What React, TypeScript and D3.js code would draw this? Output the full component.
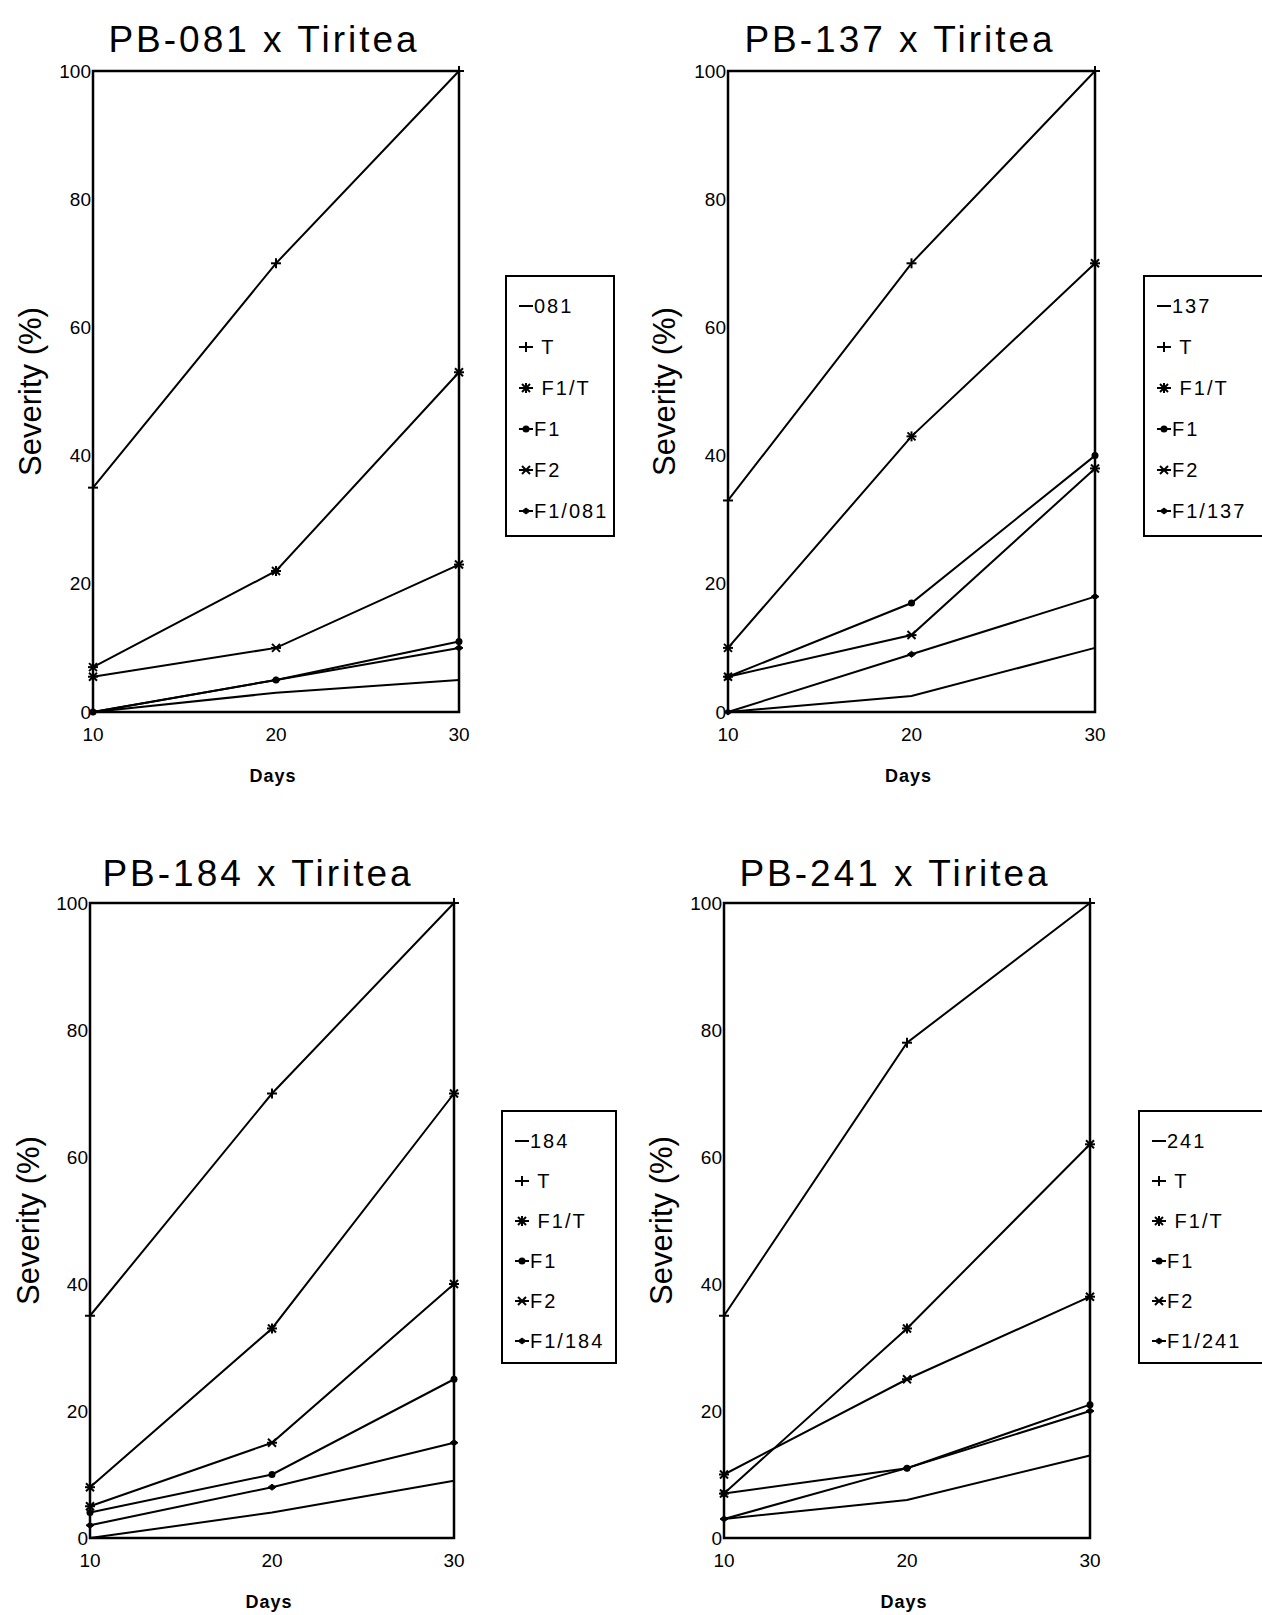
import React from "react";
import * as d3 from "d3";

const days = [10, 20, 30];
const yTicks = [0, 20, 40, 60, 80, 100];
const seriesKeys = ["parent", "T", "F1T", "F1", "F2", "F1P"];

const titles = ["PB-081 x Tiritea", "PB-137 x Tiritea", "PB-184 x Tiritea", "PB-241 x Tiritea"];
const parents = ["081", "137", "184", "241"];

const p081_parent = [0, 3, 5];
const p081_T = [35, 70, 100];
const p081_F1T = [7, 22, 53];
const p081_F1 = [0, 5, 11];
const p081_F2 = [5.5, 10, 23];
const p081_F1P = [0, 5, 10];

const p137_parent = [0, 2.5, 10];
const p137_T = [33, 70, 100];
const p137_F1T = [10, 43, 70];
const p137_F1 = [5.5, 17, 40];
const p137_F2 = [5.5, 12, 38];
const p137_F1P = [0, 9, 18];

const p184_parent = [0, 4, 9];
const p184_T = [35, 70, 100];
const p184_F1T = [8, 33, 70];
const p184_F1 = [4, 10, 25];
const p184_F2 = [5, 15, 40];
const p184_F1P = [2, 8, 15];

const p241_parent = [3, 6, 13];
const p241_T = [35, 78, 100];
const p241_F1T = [7, 33, 62];
const p241_F1 = [7, 11, 21];
const p241_F2 = [10, 25, 38];
const p241_F1P = [3, 11, 20];

const panelData = [
  [p081_parent, p081_T, p081_F1T, p081_F1, p081_F2, p081_F1P],
  [p137_parent, p137_T, p137_F1T, p137_F1, p137_F2, p137_F1P],
  [p184_parent, p184_T, p184_F1T, p184_F1, p184_F2, p184_F1P],
  [p241_parent, p241_T, p241_F1T, p241_F1, p241_F2, p241_F1P],
];

const layouts = [
  { x0: 93, x1: 459, y0: 71, y1: 712, tx: 264, ty: 52, lx: 30, lgX: 506, lgY: 276, lgW: 108, lgH: 260, lgStep: 41 },
  { x0: 728, x1: 1095, y0: 71, y1: 712, tx: 900, ty: 52, lx: 664, lgX: 1144, lgY: 276, lgW: 140, lgH: 260, lgStep: 41 },
  { x0: 90, x1: 454, y0: 903, y1: 1538, tx: 258, ty: 886, lx: 28, lgX: 502, lgY: 1111, lgW: 114, lgH: 252, lgStep: 40 },
  { x0: 724, x1: 1090, y0: 903, y1: 1538, tx: 895, ty: 886, lx: 661, lgX: 1139, lgY: 1111, lgW: 140, lgH: 252, lgStep: 40 },
];

const FONT = "'Liberation Sans', Arial, Helvetica, sans-serif";

function Marker({ kind, x, y }: { kind: string; x: number; y: number }) {
  const s = 5;
  const st = { stroke: "#000", strokeWidth: 2, fill: "none" };
  if (kind === "T") {
    return (
      <g>
        <line x1={x - s} x2={x + s} y1={y} y2={y} {...st} />
        <line x1={x} x2={x} y1={y - s} y2={y + s} {...st} />
      </g>
    );
  }
  if (kind === "F1T") {
    return (
      <g>
        <line x1={x - s} x2={x + s} y1={y} y2={y} {...st} />
        <line x1={x} x2={x} y1={y - s} y2={y + s} {...st} />
        <line x1={x - 4} x2={x + 4} y1={y - 4} y2={y + 4} {...st} />
        <line x1={x - 4} x2={x + 4} y1={y + 4} y2={y - 4} {...st} />
      </g>
    );
  }
  if (kind === "F1") {
    return <circle cx={x} cy={y} r={3.5} fill="#000" />;
  }
  if (kind === "F2") {
    return (
      <g>
        <line x1={x - 4} x2={x + 4} y1={y - 4} y2={y + 4} {...st} />
        <line x1={x - 4} x2={x + 4} y1={y + 4} y2={y - 4} {...st} />
        <line x1={x - s} x2={x + s} y1={y} y2={y} {...st} />
      </g>
    );
  }
  if (kind === "F1P") {
    return <path d={`M${x - 4},${y}L${x},${y - 3}L${x + 4},${y}L${x},${y + 3}Z`} fill="#000" stroke="#000" strokeWidth={1} />;
  }
  return null;
}

function Panel({ idx }: { idx: number }) {
  const L = layouts[idx];
  const data = panelData[idx];
  const x = d3.scaleLinear().domain([10, 30]).range([L.x0, L.x1]);
  const y = d3.scaleLinear().domain([0, 100]).range([L.y1, L.y0]);
  const line = d3
    .line<number>()
    .x((_, i) => x(days[i]))
    .y((d) => y(d));
  const legendLabels = [parents[idx], " T", " F1/T", "F1", "F2", "F1/" + parents[idx]];
  const cy = (L.y0 + L.y1) / 2;
  return (
    <g>
      <text x={L.tx} y={L.ty} fontFamily={FONT} fontSize={37} letterSpacing={3} textAnchor="middle" fill="#000">
        {titles[idx]}
      </text>
      {data.map((vals, si) => (
        <path key={si} d={line(vals) || ""} fill="none" stroke="#000" strokeWidth={2} />
      ))}
      {data.map((vals, si) =>
        vals.map((v, i) => <Marker key={si + "-" + i} kind={seriesKeys[si]} x={x(days[i])} y={y(v)} />)
      )}
      <rect x={L.x0} y={L.y0} width={L.x1 - L.x0} height={L.y1 - L.y0} fill="none" stroke="#000" strokeWidth={2.5} />
      {yTicks.map((t) => (
        <text key={t} x={L.x0 - 2} y={y(t)} dy="0.35em" fontFamily={FONT} fontSize={19} textAnchor="end" fill="#000">
          {t}
        </text>
      ))}
      {days.map((d) => (
        <text key={d} x={x(d)} y={L.y1 + 29} fontFamily={FONT} fontSize={19} textAnchor="middle" fill="#000">
          {d}
        </text>
      ))}
      <text x={(L.x0 + L.x1) / 2 - 3} y={L.y1 + 70} fontFamily={FONT} fontSize={18} fontWeight="bold" letterSpacing={1} textAnchor="middle" fill="#000">
        Days
      </text>
      <text
        transform={`translate(${L.lx},${cy}) rotate(-90)`}
        dy="0.35em"
        fontFamily={FONT}
        fontSize={31}
        textAnchor="middle"
        fill="#000"
      >
        Severity (%)
      </text>
      <rect x={L.lgX} y={L.lgY} width={L.lgW} height={L.lgH} fill="#fff" stroke="#000" strokeWidth={2} />
      {seriesKeys.map((k, i) => {
        const ly = L.lgY + 30 + i * L.lgStep;
        const lx0 = L.lgX + 13;
        return (
          <g key={k}>
            <line x1={lx0} x2={lx0 + 14} y1={ly} y2={ly} stroke="#000" strokeWidth={2} />
            <Marker kind={k} x={lx0 + 7} y={ly} />
            <text x={lx0 + 15} y={ly} dy="0.35em" fontFamily={FONT} fontSize={20} letterSpacing={2} fill="#000" style={{ whiteSpace: "pre" }}>
              {legendLabels[i]}
            </text>
          </g>
        );
      })}
    </g>
  );
}

export default function App() {
  return (
    <svg
      width={1262}
      height={1615}
      viewBox="0 0 1262 1615"
      style={{ position: "absolute", left: 0, top: 0, background: "#fff" }}
    >
      <rect x={0} y={0} width={1262} height={1615} fill="#fff" />
      {[0, 1, 2, 3].map((i) => (
        <Panel key={i} idx={i} />
      ))}
    </svg>
  );
}
